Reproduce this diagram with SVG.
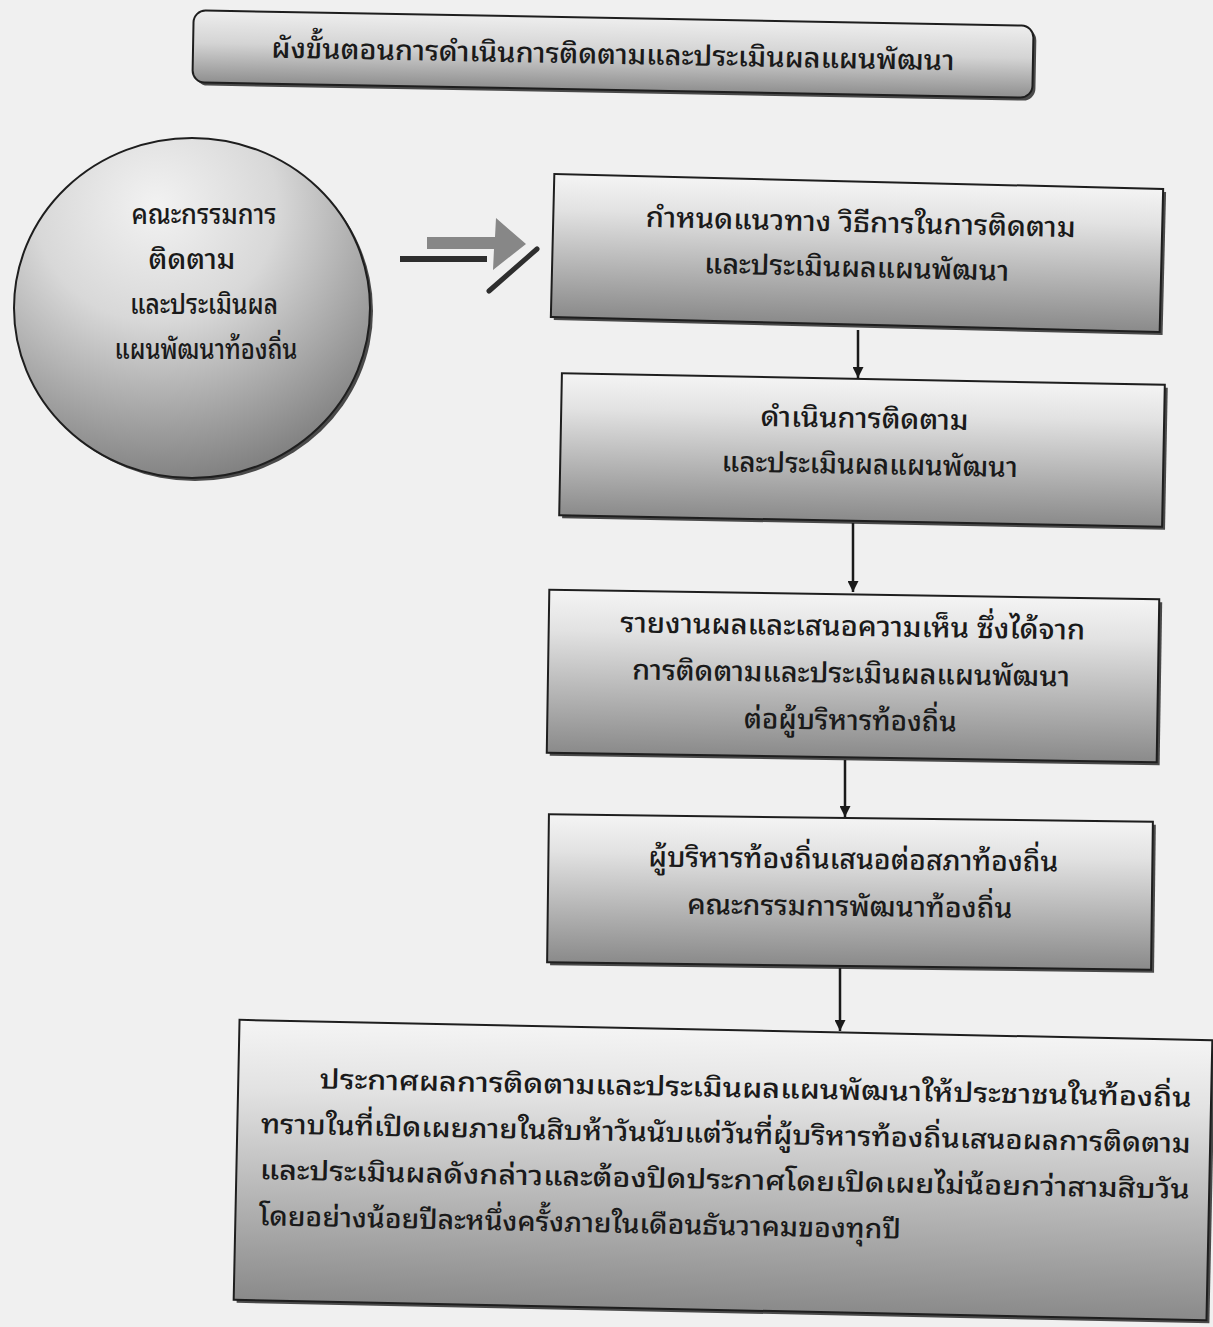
<svg xmlns="http://www.w3.org/2000/svg" width="1213" height="1327" viewBox="0 0 1213 1327">
<defs>
<linearGradient id="gBox" x1="0" y1="0" x2="0" y2="1">
<stop offset="0" stop-color="#f4f4f4"/>
<stop offset="0.25" stop-color="#e2e2e2"/>
<stop offset="1" stop-color="#8a8a8a"/>
</linearGradient>
<linearGradient id="gTitle" x1="0" y1="0" x2="0" y2="1">
<stop offset="0" stop-color="#eeeeee"/>
<stop offset="0.45" stop-color="#d4d4d4"/>
<stop offset="1" stop-color="#8f8f8f"/>
</linearGradient>
<radialGradient id="gCircle" cx="0.4" cy="0.2" r="0.85">
<stop offset="0" stop-color="#f2f2f2"/>
<stop offset="0.4" stop-color="#d8d8d8"/>
<stop offset="1" stop-color="#7a7a7a"/>
</radialGradient>
<marker id="ah" viewBox="0 0 10 10" refX="10" refY="5" markerWidth="11" markerHeight="11" markerUnits="userSpaceOnUse" orient="auto">
<path d="M0,0 L10,5 L0,10 z" fill="#1a1a1a"/>
</marker>
</defs>
<style>
.t{font-family:"Noto Sans Thai Looped","Noto Serif Thai","Noto Sans Thai","Noto Sans",sans-serif;font-size:28px;font-weight:500;fill:#1a1a1a;text-anchor:middle}
.tl{font-family:"Noto Sans Thai Looped","Noto Serif Thai","Noto Sans Thai","Noto Sans",sans-serif;font-size:27px;font-weight:500;fill:#1a1a1a}
.box{fill:url(#gBox);stroke:#1e1e1e;stroke-width:2}
.sh{fill:#4a4a4a}
.conn{stroke:#1a1a1a;stroke-width:2.5;fill:none;marker-end:url(#ah)}
</style>
<rect width="1213" height="1327" fill="#f0f0f0"/>

<g id="title" transform="rotate(1.05 613 54)">
<rect x="196" y="21" width="840" height="72" rx="12" class="sh"/>
<rect x="193" y="18" width="840" height="72" rx="12" fill="url(#gTitle)" stroke="#1e1e1e" stroke-width="2"/>
<text x="613" y="64" class="t" font-size="30" textLength="683" lengthAdjust="spacingAndGlyphs">ผังขั้นตอนการดำเนินการติดตามและประเมินผลแผนพัฒนา</text>
</g>

<g id="committee">
<ellipse cx="195" cy="311" rx="178" ry="170" class="sh"/>
<ellipse cx="192" cy="308" rx="178" ry="170" fill="url(#gCircle)" stroke="#1e1e1e" stroke-width="2"/>
<text x="204" y="224" class="t" textLength="145" lengthAdjust="spacingAndGlyphs">คณะกรรมการ</text>
<text x="192" y="269" class="t" textLength="87" lengthAdjust="spacingAndGlyphs">ติดตาม</text>
<text x="204" y="314" class="t" textLength="148" lengthAdjust="spacingAndGlyphs">และประเมินผล</text>
<text x="206" y="359" class="t" textLength="183" lengthAdjust="spacingAndGlyphs">แผนพัฒนาท้องถิ่น</text>
</g>

<g id="step1" transform="rotate(1.4 857 253)">
<rect x="555.5" y="184.5" width="609" height="143" class="sh"/>
<rect x="552.5" y="181.5" width="609" height="143" class="box"/>
<text x="860" y="232" class="t" textLength="430" lengthAdjust="spacingAndGlyphs">กำหนดแนวทาง วิธีการในการติดตาม</text>
<text x="857" y="277" class="t" textLength="305" lengthAdjust="spacingAndGlyphs">และประเมินผลแผนพัฒนา</text>
</g>

<g id="step2" transform="rotate(1.1 862 450)">
<rect x="563.5" y="382" width="603" height="142" class="sh"/>
<rect x="560.5" y="379" width="603" height="142" class="box"/>
<text x="864" y="428" class="t" textLength="208" lengthAdjust="spacingAndGlyphs">ดำเนินการติดตาม</text>
<text x="870" y="474" class="t" textLength="296" lengthAdjust="spacingAndGlyphs">และประเมินผลแผนพัฒนา</text>
</g>

<g id="step3" transform="rotate(0.9 853 676)">
<rect x="551" y="597.5" width="610" height="163" class="sh"/>
<rect x="548" y="594.5" width="610" height="163" class="box"/>
<text x="852" y="636" class="t" textLength="465" lengthAdjust="spacingAndGlyphs">รายงานผลและเสนอความเห็น ซึ่งได้จาก</text>
<text x="851" y="683" class="t" textLength="438" lengthAdjust="spacingAndGlyphs">การติดตามและประเมินผลแผนพัฒนา</text>
<text x="851" y="730" class="t" textLength="213" lengthAdjust="spacingAndGlyphs">ต่อผู้บริหารท้องถิ่น</text>
</g>

<g id="step4" transform="rotate(0.7 850 892)">
<rect x="551" y="821" width="604" height="148" class="sh"/>
<rect x="548" y="818" width="604" height="148" class="box"/>
<text x="853" y="869" class="t" textLength="410" lengthAdjust="spacingAndGlyphs">ผู้บริหารท้องถิ่นเสนอต่อสภาท้องถิ่น</text>
<text x="850" y="916" class="t" textLength="325" lengthAdjust="spacingAndGlyphs">คณะกรรมการพัฒนาท้องถิ่น</text>
</g>

<g id="step5" transform="rotate(1.2 723 1170)">
<rect x="239.5" y="1033" width="973" height="280" class="sh"/>
<rect x="236.5" y="1030" width="973" height="280" class="box"/>
<text x="318" y="1097" class="tl" textLength="872" lengthAdjust="spacingAndGlyphs">ประกาศผลการติดตามและประเมินผลแผนพัฒนาให้ประชาชนในท้องถิ่น</text>
<text x="260" y="1143" class="tl" textLength="930" lengthAdjust="spacingAndGlyphs">ทราบในที่เปิดเผยภายในสิบห้าวันนับแต่วันที่ผู้บริหารท้องถิ่นเสนอผลการติดตาม</text>
<text x="260" y="1189" class="tl" textLength="930" lengthAdjust="spacingAndGlyphs">และประเมินผลดังกล่าวและต้องปิดประกาศโดยเปิดเผยไม่น้อยกว่าสามสิบวัน</text>
<text x="260" y="1235" class="tl" textLength="642" lengthAdjust="spacingAndGlyphs">โดยอย่างน้อยปีละหนึ่งครั้งภายในเดือนธันวาคมของทุกปี</text>
</g>

<g id="feed-arrow">
<polygon points="427,237 495,237 496,218 526,244 493,270 494,249 427,249" fill="#878787"/>
<line x1="400" y1="259" x2="487" y2="259" stroke="#2e2e2e" stroke-width="6"/>
<line x1="489" y1="291" x2="537" y2="249" stroke="#2e2e2e" stroke-width="5" stroke-linecap="round"/>
</g>

<g id="connectors">
<line x1="858" y1="330" x2="858" y2="378" class="conn"/>
<line x1="853" y1="523" x2="853" y2="592" class="conn"/>
<line x1="845" y1="760" x2="845" y2="817" class="conn"/>
<line x1="840" y1="968" x2="840" y2="1031" class="conn"/>
</g>
</svg>
